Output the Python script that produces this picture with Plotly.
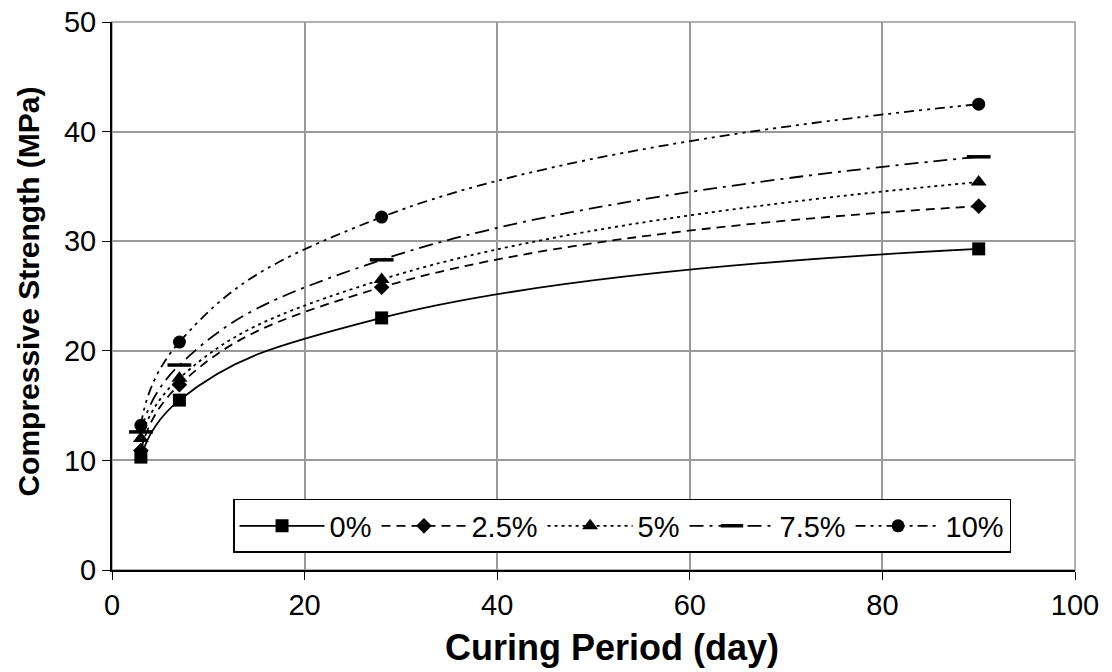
import plotly.graph_objects as go

days = [3, 7, 28, 90]
s0 = [10.3, 15.5, 23.0, 29.3]
s25 = [10.9, 16.9, 25.8, 33.2]
s5 = [12.0, 17.5, 26.5, 35.4]
s75 = [12.6, 18.7, 28.3, 37.7]
s10 = [13.2, 20.8, 32.2, 42.5]
names = ["0%", "2.5%", "5%", "7.5%", "10%"]

x_title = "Curing Period (day)"
y_title = "Compressive Strength (MPa)"

series = [s0, s25, s5, s75, s10]
dashes = ["solid", "9px,6px", "3px,4px", "14px,6px,3px,6px", "10px,5px,3px,5px,3px,5px"]
symbols = ["square", "diamond", "triangle-up", "line-ew", "circle"]
sizes = [13, 12, 14, 17, 13]

fig = go.Figure()
for name, ys, d, sym, sz in zip(names, series, dashes, symbols, sizes):
    fig.add_trace(go.Scatter(
        x=days, y=ys, name=name, mode="lines+markers",
        line=dict(color="black", width=1.8, dash=d, shape="spline", smoothing=1.3),
        marker=dict(symbol=sym, size=sz, color="black",
                    line=dict(color="black", width=3.5 if sym == "line-ew" else 0)),
    ))

fig.update_layout(
    width=1112, height=672,
    margin=dict(l=112, r=37, t=22, b=102, autoexpand=False),
    paper_bgcolor="white", plot_bgcolor="white",
    font=dict(family="Liberation Sans, Arial, sans-serif", color="black", size=28),
    showlegend=True,
    legend=dict(orientation="h", x=0.1257, y=0.1296, xanchor="left", yanchor="top",
                bordercolor="black", borderwidth=1.5, bgcolor="white",
                font=dict(size=29), itemwidth=85, tracegroupgap=0),
    annotations=[
        dict(text="<b>" + x_title + "</b>", xref="paper", yref="paper",
             x=0.519, y=-0.142, xanchor="center", yanchor="middle",
             showarrow=False, font=dict(size=36)),
        dict(text="<b>" + y_title + "</b>", xref="paper", yref="paper",
             x=-0.0862, y=0.508, xanchor="center", yanchor="middle", textangle=-90,
             showarrow=False, font=dict(size=30)),
    ],
)
fig.update_xaxes(range=[0, 100], dtick=20, showgrid=True, gridcolor="#9a9a9a", gridwidth=1.5,
                 showline=True, linecolor="black", linewidth=2, ticks="outside", ticklen=8,
                 tickcolor="black", mirror=False, zeroline=False, automargin=False,
                 tickfont=dict(size=29))
fig.update_yaxes(range=[0, 50], dtick=10, showgrid=True, gridcolor="#9a9a9a", gridwidth=1.5,
                 showline=True, linecolor="black", linewidth=2, ticks="outside", ticklen=8,
                 tickcolor="black", zeroline=False, automargin=False,
                 tickfont=dict(size=29))
# top and right frame
fig.add_shape(type="rect", xref="paper", yref="paper", x0=0, y0=0, x1=1, y1=1,
              line=dict(color="#9a9a9a", width=1.5), layer="below")
fig.write_html("out.html")
